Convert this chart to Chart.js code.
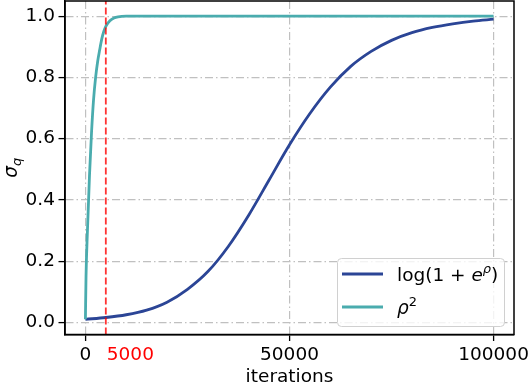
<!DOCTYPE html>
<html>
<head>
<meta charset="utf-8">
<script src="https://cdn.jsdelivr.net/npm/chart.js@4.4.0/dist/chart.umd.min.js"></script>
<style>
  html, body { margin: 0; padding: 0; background: #fff; }
  #wrap { width: 532px; height: 386px; }
</style>
</head>
<body>
<div id="wrap"><canvas id="sigmaChart" width="532" height="386"></canvas></div>
<script>
// softplus parameterisation log(1 + e^rho)
const SOFTPLUS_ITER = [0, 5000, 10000, 15000, 20000, 25000, 30000, 35000, 40000, 45000, 50000,
  55000, 60000, 65000, 70000, 75000, 80000, 85000, 90000, 95000, 100000];
const SOFTPLUS = [0.010, 0.016, 0.025, 0.040, 0.066, 0.108, 0.166, 0.248, 0.350, 0.465, 0.580,
  0.682, 0.768, 0.836, 0.885, 0.921, 0.946, 0.963, 0.975, 0.984, 0.990];

// square parameterisation rho^2
const SQUARE_ITER = [0, 150, 500, 1000, 1500, 2000, 2500, 3000, 3500, 4000, 4500, 5000,
  6000, 7000, 8000, 10000, 20000, 40000, 60000, 80000, 100000];
const SQUARE = [0.010, 0.150, 0.300, 0.480, 0.620, 0.728, 0.800, 0.852, 0.890, 0.925, 0.950, 0.967,
  0.985, 0.994, 0.998, 1.0, 1.0, 1.0, 1.0, 1.0, 1.0];

const X_TICKS = [0, 50000, 100000];
const Y_TICKS = [0, 0.2, 0.4, 0.6, 0.8, 1.0];
const MARK_ITER = 5000;

const BLUE = '#2b4596';
const TEAL = '#4aacae';
const FONT = 'DejaVu Sans';
const FS = 18.5;

const toPoints = (xs, ys) => xs.map((x, i) => ({ x: x, y: ys[i] }));

// draw a run of text pieces, some italic / superscript / subscript
function drawRuns(ctx, runs, x, y) {
  runs.forEach(r => {
    const size = r.sup || r.sub ? FS * 0.7 : FS;
    ctx.font = (r.italic ? 'italic ' : '') + size + 'px "' + FONT + '"';
    const dy = r.sup ? -FS * 0.42 : (r.sub ? FS * 0.2 : 0);
    ctx.fillText(r.t, x, y + dy);
    x += ctx.measureText(r.t).width;
  });
}

const extras = {
  id: 'extras',
  afterDatasetsDraw(chart) {
    const { ctx, chartArea, scales } = chart;
    const px = scales.x.getPixelForValue(MARK_ITER);
    ctx.save();
    ctx.strokeStyle = 'rgba(255,0,0,0.8)';
    ctx.lineWidth = 1.8;
    ctx.setLineDash([7, 3]);
    ctx.beginPath();
    ctx.moveTo(px, chartArea.bottom);
    ctx.lineTo(px, chartArea.top);
    ctx.stroke();
    ctx.restore();
  },
  afterDraw(chart) {
    const { ctx, chartArea, scales } = chart;
    ctx.save();
    // frame
    ctx.strokeStyle = '#000';
    ctx.lineWidth = 1.5;
    ctx.strokeRect(chartArea.left, chartArea.top, chartArea.right - chartArea.left, chartArea.bottom - chartArea.top);

    // red 5000 label
    const px = scales.x.getPixelForValue(MARK_ITER);
    ctx.fillStyle = '#ff0000';
    ctx.font = FS + 'px "' + FONT + '"';
    ctx.textAlign = 'left';
    ctx.textBaseline = 'alphabetic';
    ctx.fillText(String(MARK_ITER), px + 1, 360);

    // y title sigma_q
    ctx.fillStyle = '#000';
    ctx.translate(17, (chartArea.top + chartArea.bottom) / 2);
    ctx.rotate(-Math.PI / 2);
    ctx.textAlign = 'left';
    drawRuns(ctx, [{ t: 'σ', italic: true }, { t: 'q', italic: true, sub: true }], -10, 0);
    ctx.restore();

    // legend
    ctx.save();
    const lx = 337, ly = 258, lw = 167, lh = 68, r = 4;
    ctx.fillStyle = 'rgba(255,255,255,0.8)';
    ctx.strokeStyle = '#d0d0d0';
    ctx.lineWidth = 1;
    ctx.beginPath();
    ctx.roundRect(lx + 0.5, ly + 0.5, lw, lh, r);
    ctx.fill();
    ctx.stroke();
    const rows = [
      { color: BLUE, y: 274, runs: [{ t: 'log(1 + ' }, { t: 'e', italic: true }, { t: 'ρ', italic: true, sup: true }, { t: ')' }] },
      { color: TEAL, y: 307, runs: [{ t: 'ρ', italic: true }, { t: '2', sup: true }] }
    ];
    rows.forEach(row => {
      ctx.strokeStyle = row.color;
      ctx.lineWidth = 2.8;
      ctx.beginPath();
      ctx.moveTo(342, row.y);
      ctx.lineTo(383, row.y);
      ctx.stroke();
      ctx.fillStyle = '#000';
      ctx.textBaseline = 'alphabetic';
      ctx.textAlign = 'left';
      drawRuns(ctx, row.runs, 397, row.y + 7);
    });
    ctx.restore();
  }
};

new Chart(document.getElementById('sigmaChart').getContext('2d'), {
  type: 'line',
  data: {
    datasets: [
      {
        label: 'ρ²',
        data: toPoints(SQUARE_ITER, SQUARE),
        borderColor: TEAL,
        borderWidth: 2.8,
        pointRadius: 0,
        cubicInterpolationMode: 'monotone',
        fill: false
      },
      {
        label: 'log(1 + e^ρ)',
        data: toPoints(SOFTPLUS_ITER, SOFTPLUS),
        borderColor: BLUE,
        borderWidth: 2.8,
        pointRadius: 0,
        cubicInterpolationMode: 'monotone',
        fill: false
      }
    ]
  },
  options: {
    responsive: false,
    animation: false,
    layout: { padding: { top: 1, right: 18, left: 0, bottom: 0 } },
    plugins: {
      legend: { display: false },
      tooltip: { enabled: false }
    },
    scales: {
      x: {
        type: 'linear',
        min: -5000,
        max: 105000,
        afterBuildTicks: s => { s.ticks = X_TICKS.map(v => ({ value: v })); },
        afterFit: s => { s.height = 51.5; s.paddingLeft = 0; s.paddingRight = 0; },
        ticks: {
          color: '#000',
          font: { family: FONT, size: FS },
          padding: 3,
          maxRotation: 0,
          callback: v => String(v)
        },
        grid: { color: '#c0c0c0', lineWidth: 1.2, tickColor: '#000', tickLength: 6.5, tickWidth: 1.3 },
        border: { display: true, color: '#000', width: 1.5, dash: [8, 3, 1.5, 3] },
        title: {
          display: true,
          text: 'iterations',
          color: '#000',
          font: { family: FONT, size: FS },
          padding: { top: 0, bottom: -2 }
        }
      },
      y: {
        type: 'linear',
        min: -0.0395,
        max: 1.0495,
        afterBuildTicks: s => { s.ticks = Y_TICKS.map(v => ({ value: v })); },
        afterFit: s => { s.width = 65; s.paddingTop = 0; s.paddingBottom = 0; },
        ticks: {
          color: '#000',
          font: { family: FONT, size: FS },
          padding: 3.5,
          callback: v => v.toFixed(1)
        },
        grid: { color: '#c0c0c0', lineWidth: 1.2, tickColor: '#000', tickLength: 6.5, tickWidth: 1.3 },
        border: { display: true, color: '#000', width: 1.5, dash: [8, 3, 1.5, 3] }
      }
    }
  },
  plugins: [extras]
});
</script>
</body>
</html>
